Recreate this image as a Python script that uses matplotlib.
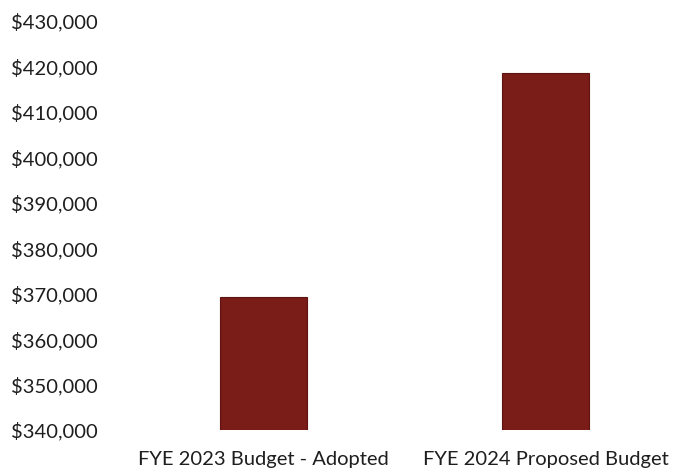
import matplotlib
matplotlib.use("Agg")
import matplotlib.pyplot as plt
from matplotlib.ticker import FuncFormatter

categories = ["FYE 2023 Budget - Adopted", "FYE 2024 Proposed Budget"]
values = [369300, 418600]
y_ticks = list(range(340000, 430001, 10000))

plt.rcParams['font.family'] = ['Lato', 'DejaVu Sans']

fig = plt.figure(figsize=(6.75, 4.75), dpi=100)
ax = fig.add_axes([120/675, 1 - 430/475, 1 - 120/675, (430 - 21)/475])

x = list(range(len(categories)))
ax.bar(x, values, width=0.31, color="#7a1c17", edgecolor="#5e1410", linewidth=0.8)

ax.set_ylim(340000, 430000)
ax.set_xlim(-0.51, 1.46)
ax.set_yticks(y_ticks)
ax.yaxis.set_major_formatter(FuncFormatter(lambda v, p: f"${v:,.0f}"))
ax.set_xticks(x)
ax.set_xticklabels(categories)
ax.tick_params(axis='both', length=0, labelsize=14.5, colors="#1e1e1e")
ax.tick_params(axis='y', pad=16)
ax.tick_params(axis='x', pad=15)
for s in ax.spines.values():
    s.set_visible(False)

fig.savefig("out.png", dpi=100)
